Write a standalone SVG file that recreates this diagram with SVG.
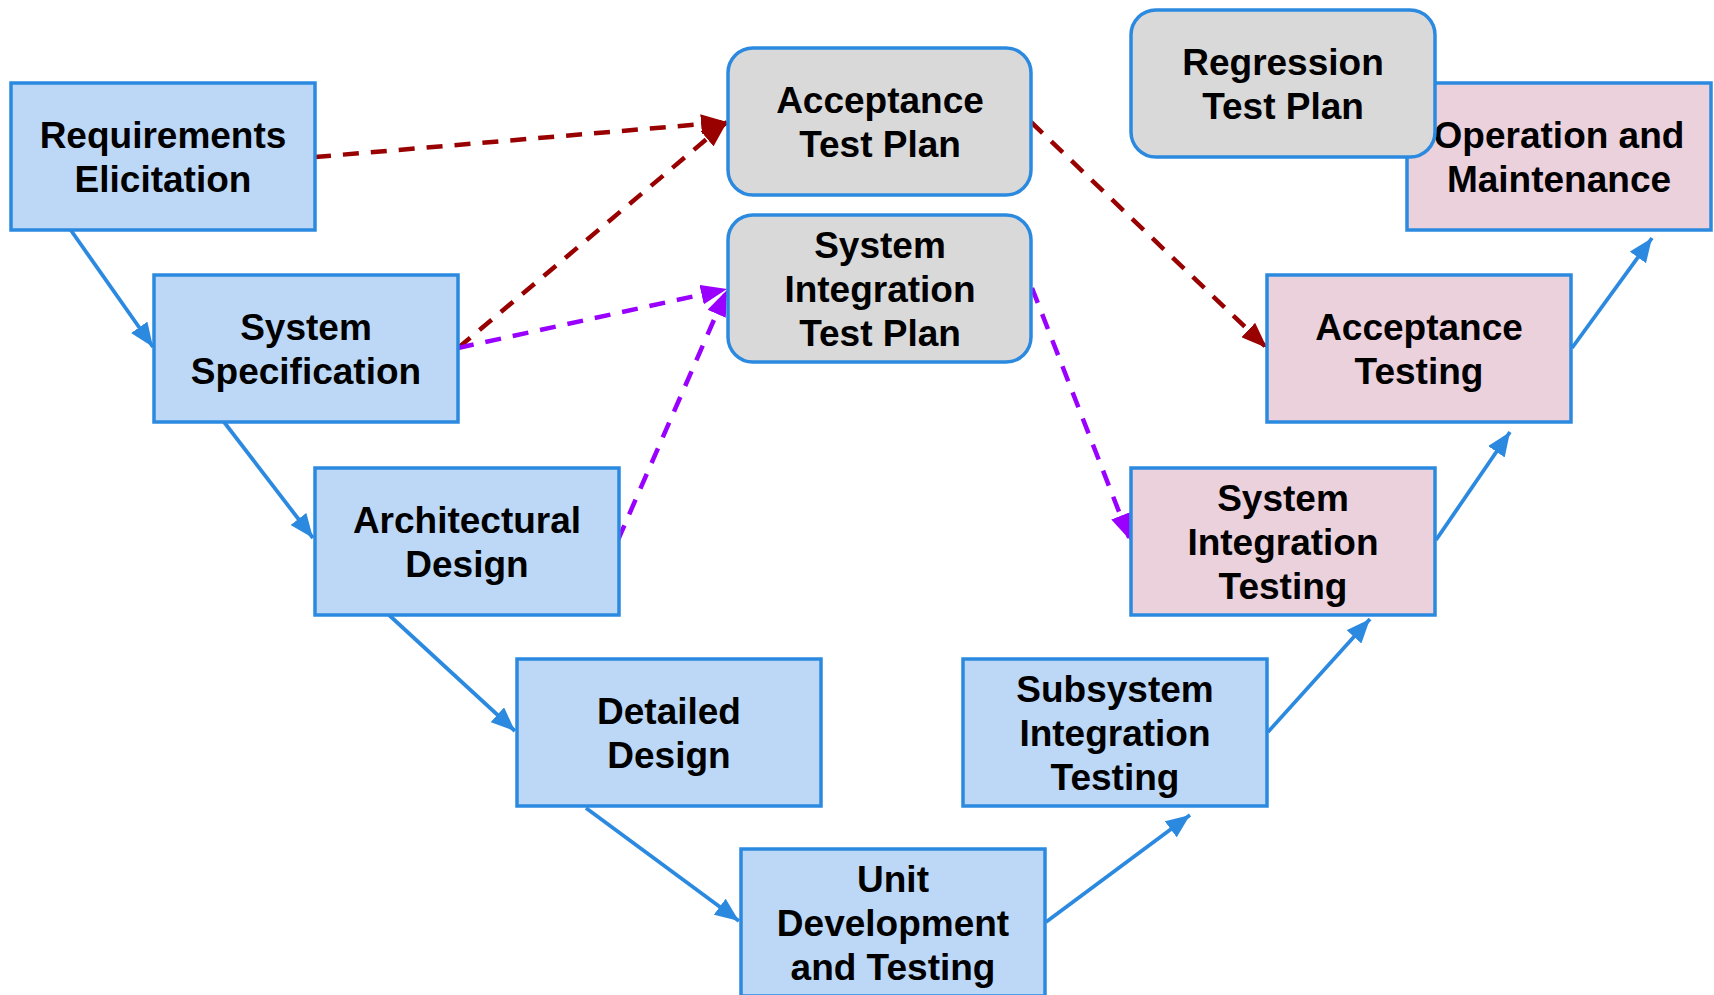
<svg xmlns="http://www.w3.org/2000/svg" width="1714" height="995" viewBox="0 0 1714 995">
<style>
.box{stroke:#2b8ae0;stroke-width:3.5}
.blue{fill:#bcd8f6}
.pink{fill:#ead1dc}
.gray{fill:#d9d9d9}
text{font-family:"Liberation Sans",Arial,sans-serif;font-weight:bold;font-size:37px;fill:#000;text-anchor:middle}
.flow{stroke:#2b8ae0;stroke-width:3.8;fill:none;marker-end:url(#ab)}
.red{stroke:#990000;stroke-width:4.5;fill:none;stroke-dasharray:16,12;marker-end:url(#ar)}
.pur{stroke:#9900ff;stroke-width:4.5;fill:none;stroke-dasharray:16,12;marker-end:url(#ap)}
</style>
<defs>
<marker id="ab" viewBox="0 0 24 20" refX="24" refY="10" markerWidth="24" markerHeight="20" markerUnits="userSpaceOnUse" orient="auto"><path d="M0,0 L24,10 L0,20 z" fill="#2b8ae0"/></marker>
<marker id="ar" viewBox="0 0 26 20" refX="26" refY="10" markerWidth="26" markerHeight="20" markerUnits="userSpaceOnUse" orient="auto"><path d="M0,0 L26,10 L0,20 z" fill="#990000"/></marker>
<marker id="ap" viewBox="0 0 26 20" refX="26" refY="10" markerWidth="26" markerHeight="20" markerUnits="userSpaceOnUse" orient="auto"><path d="M0,0 L26,10 L0,20 z" fill="#9900ff"/></marker>
</defs>
<rect width="1714" height="995" fill="#fff"/>
<g id="connectors">
<line class="flow" x1="70" y1="229" x2="153" y2="347"/>
<line class="flow" x1="224" y1="422" x2="313" y2="538"/>
<line class="flow" x1="389" y1="615" x2="515" y2="731"/>
<line class="flow" x1="586" y1="808" x2="739" y2="921"/>
<line class="flow" x1="1046" y1="922" x2="1190" y2="815"/>
<line class="flow" x1="1268" y1="732" x2="1370" y2="619"/>
<line class="flow" x1="1436" y1="540" x2="1510" y2="432"/>
<line class="flow" x1="1572" y1="348" x2="1652" y2="238"/>
<line class="red" x1="315" y1="157" x2="727" y2="122"/>
<line class="red" x1="458" y1="348" x2="727" y2="122"/>
<line class="red" x1="1031" y1="122" x2="1267" y2="348"/>
<line class="pur" x1="458" y1="348" x2="727" y2="289"/>
<line class="pur" x1="618" y1="540" x2="727" y2="290"/>
<line class="pur" x1="1032" y1="288" x2="1130" y2="540"/>
</g>
<g id="req"><rect class="box blue" x="11" y="83" width="304" height="147"/><text x="163" y="148">Requirements</text><text x="163" y="192">Elicitation</text></g>
<g id="spec"><rect class="box blue" x="154" y="275" width="304" height="147"/><text x="306" y="340">System</text><text x="306" y="384">Specification</text></g>
<g id="arch"><rect class="box blue" x="315" y="468" width="304" height="147"/><text x="467" y="533">Architectural</text><text x="467" y="577">Design</text></g>
<g id="det"><rect class="box blue" x="517" y="659" width="304" height="147"/><text x="669" y="724">Detailed</text><text x="669" y="768">Design</text></g>
<g id="unit"><rect class="box blue" x="741" y="849" width="304" height="147"/><text x="893" y="892">Unit</text><text x="893" y="936">Development</text><text x="893" y="980">and Testing</text></g>
<g id="sub"><rect class="box blue" x="963" y="659" width="304" height="147"/><text x="1115" y="702">Subsystem</text><text x="1115" y="746">Integration</text><text x="1115" y="790">Testing</text></g>
<g id="sit"><rect class="box pink" x="1131" y="468" width="304" height="147"/><text x="1283" y="511">System</text><text x="1283" y="555">Integration</text><text x="1283" y="599">Testing</text></g>
<g id="at"><rect class="box pink" x="1267" y="275" width="304" height="147"/><text x="1419" y="340">Acceptance</text><text x="1419" y="384">Testing</text></g>
<g id="om"><rect class="box pink" x="1407" y="83" width="304" height="147"/><text x="1559" y="148">Operation and</text><text x="1559" y="192">Maintenance</text></g>
<g id="atp"><rect class="box gray" x="728" y="48" width="303" height="147" rx="25"/><text x="880" y="113">Acceptance</text><text x="880" y="157">Test Plan</text></g>
<g id="sitp"><rect class="box gray" x="728" y="215" width="303" height="147" rx="25"/><text x="880" y="258">System</text><text x="880" y="302">Integration</text><text x="880" y="346">Test Plan</text></g>
<g id="rtp"><rect class="box gray" x="1131" y="10" width="304" height="147" rx="25"/><text x="1283" y="75">Regression</text><text x="1283" y="119">Test Plan</text></g>
</svg>
